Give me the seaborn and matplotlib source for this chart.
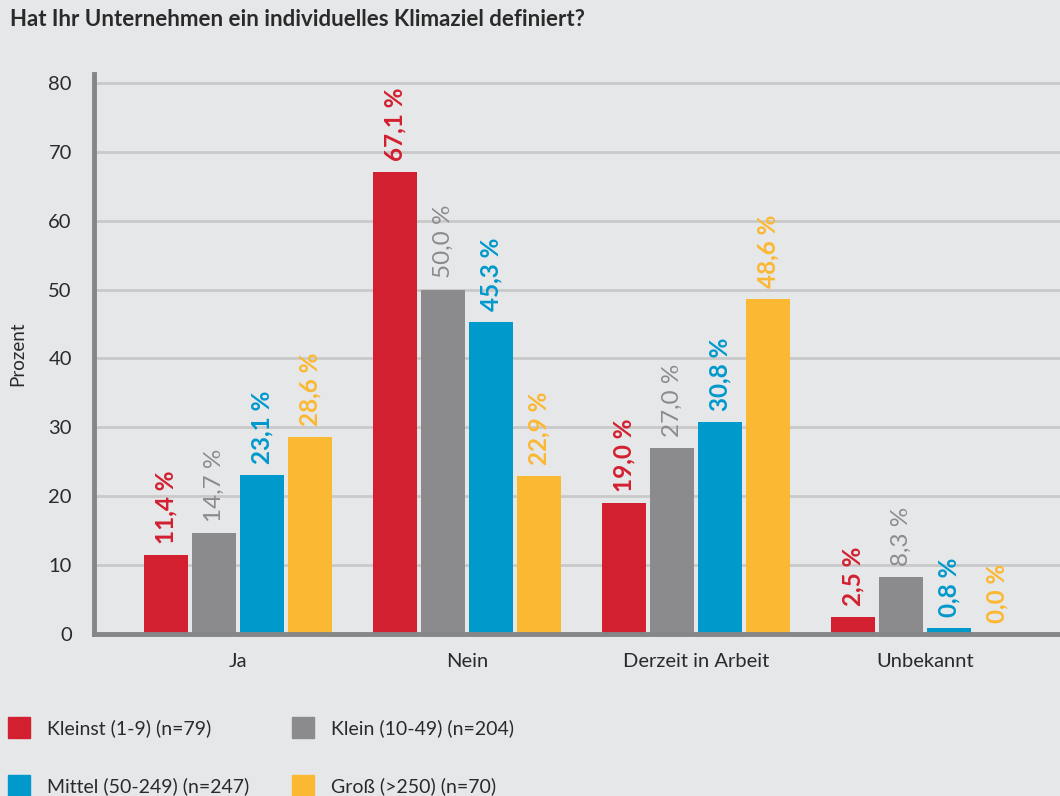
import numpy as np
import pandas as pd
import matplotlib
matplotlib.use('Agg')
import matplotlib.pyplot as plt
import seaborn as sns

# Werte aus der Grafik (Prozent)
kategorien = ['Ja', 'Nein', 'Derzeit in Arbeit', 'Unbekannt']
gruppen = ['Kleinst (1-9) (n=79)', 'Klein (10-49) (n=204)',
           'Mittel (50-249) (n=247)', 'Groß (>250) (n=70)']
kleinst = [11.4, 67.1, 19.0, 2.5]
klein = [14.7, 50.0, 27.0, 8.3]
mittel = [23.1, 45.3, 30.8, 0.8]
gross = [28.6, 22.9, 48.6, 0.0]
farben = ['#D22030', '#8B8B8E', '#0099CC', '#FBB833']

df = pd.DataFrame({
    'Antwort': kategorien * 4,
    'Gruppe': np.repeat(gruppen, 4),
    'Prozent': kleinst + klein + mittel + gross,
})

sns.set_style('white')
plt.rcParams['font.family'] = ['Lato', 'DejaVu Sans']
bg = '#E6E7E9'

fig = plt.figure(figsize=(10.6, 7.96), dpi=100, facecolor=bg)
ax = fig.add_axes([94 / 1060, 1 - 634 / 796, 1 - 94 / 1060, (634 - 74) / 796])
ax.set_facecolor(bg)

sns.barplot(data=df, x='Antwort', y='Prozent', hue='Gruppe', order=kategorien,
            hue_order=gruppen, palette=farben, width=0.838, gap=0.083,
            saturation=1, linewidth=0, ax=ax, legend=False)

ax.set_xlim(-0.629, 3.59)
ax.set_ylim(0, 81.3)
ax.set_yticks(range(0, 81, 10))
ax.yaxis.grid(True, color='#C9C9CA', linewidth=2)
ax.set_axisbelow(True)
for s in ['top', 'right']:
    ax.spines[s].set_visible(False)
for s in ['left', 'bottom']:
    ax.spines[s].set_color('#858688')
    ax.spines[s].set_linewidth(3.5)
ax.tick_params(axis='both', length=0, labelsize=14.5, labelcolor='#2A2A2A')
ax.tick_params(axis='y', pad=16)
ax.tick_params(axis='x', pad=14)
ax.set_xlabel('')
ax.set_ylabel('Prozent', fontsize=13.5, color='#2A2A2A', labelpad=16)

# Werte-Beschriftungen
for cont, farbe, werte in zip(ax.containers, farben, [kleinst, klein, mittel, gross]):
    weight = 'normal' if farbe == '#8B8B8E' else 'bold'
    labels = [f'{v:.1f}'.replace('.', ',') + ' %' for v in werte]
    ax.bar_label(cont, labels=labels, rotation=90, padding=8, color=farbe,
                 fontsize=17.5, fontweight=weight)

fig.text(10 / 1060, 1 - 20 / 796, 'Hat Ihr Unternehmen ein individuelles Klimaziel definiert?',
         fontsize=16, fontweight='bold', color='#2A2A2A', va='center', ha='left')

# Legende: Reihenfolge spaltenweise
handles = [plt.Rectangle((0, 0), 1, 1, color=c) for c in farben]
order = [0, 2, 1, 3]
fig.legend([handles[i] for i in order], [gruppen[i] for i in order],
           loc='upper left', bbox_to_anchor=(8 / 1060, 1 - 717 / 796), ncol=2,
           frameon=False, fontsize=14, handlelength=1.15, handleheight=1.3,
           handletextpad=0.85, columnspacing=2.2, labelspacing=1.9,
           borderpad=0, borderaxespad=0, labelcolor='#2A2A2A')

fig.savefig('out.png', dpi=100, facecolor=bg)
